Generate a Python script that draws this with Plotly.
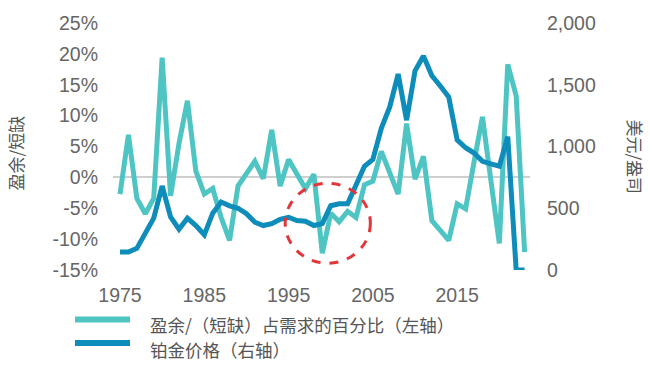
import plotly.graph_objects as go

years = list(range(1975, 2024))
surplus_pct = [
    -2.7, 6.9, -3.4, -5.9, -3.4, 19.4, -3.0, 5.5, 12.4, 1.0,
    -2.7, -1.8, -6.5, -10.2, -1.4, 0.5, 2.6, -0.2, 7.7, -1.4,
    2.9, 0.5, -1.8, 0.5, -12.3, -5.8, -7.2, -5.5, -6.5, -1.2,
    -0.6, 4.2, 1.0, -2.7, 8.7, -0.3, 3.4, -7.0, -8.6, -10.2,
    -4.3, -5.1, 2.5, 9.8, -0.5, -10.7, 18.3, 13.2, -12.1,
]
platinum_price = [
    145, 145, 175, 290, 420, 680, 430, 330, 420, 360,
    285, 460, 550, 520, 500, 456, 387, 360, 375, 410,
    427, 400, 395, 360, 376, 520, 536, 536, 690, 840,
    896, 1147, 1320, 1587, 1213, 1613, 1733, 1573, 1490, 1400,
    1053, 990, 947, 880, 860, 840, 1080, 0, 0,
]

x_ticks = [1975, 1985, 1995, 2005, 2015]
left_ticks = [-15, -10, -5, 0, 5, 10, 15, 20, 25]
left_ticktext = ["-15%", "-10%", "-5%", "0%", "5%", "10%", "15%", "20%", "25%"]
right_ticks = [0, 500, 1000, 1500, 2000]
right_ticktext = ["0", "500", "1,000", "1,500", "2,000"]

name_surplus = "盈余/（短缺）占需求的百分比（左轴）"
name_price = "铂金价格（右轴）"
left_title = "盈余/短缺"
right_title = "美元/盎司"

TEAL = "#4EC4C3"
BLUE = "#0E8CBA"
TXT = "#666666"
CJK = "Noto Sans CJK SC"
LAT = "Liberation Sans, Arial, sans-serif"

fig = go.Figure()
fig.add_trace(go.Scatter(x=years, y=surplus_pct, mode="lines", name=name_surplus,
                         line=dict(color=TEAL, width=5), yaxis="y"))
fig.add_trace(go.Scatter(x=years, y=platinum_price, mode="lines", name=name_price,
                         line=dict(color=BLUE, width=5), yaxis="y2"))

W, H = 650, 365
L, R, T, B = 113, 120, 20, 95
pw, ph = W - L - R, H - T - B


def px(xp):
    return (xp - L) / pw


def py(yp):
    return (H - B - yp) / ph


fig.update_layout(
    width=W, height=H,
    margin=dict(l=L, r=R, t=T, b=B, pad=0),
    paper_bgcolor="white", plot_bgcolor="white",
    showlegend=False,
    xaxis=dict(range=[1974.17, 2023.64], tickvals=x_ticks, showgrid=False,
               zeroline=False, showline=False, ticks="",
               tickfont=dict(family=LAT, size=19.5, color=TXT),
               ticklabelstandoff=11),
    yaxis=dict(range=[-15, 25], tickvals=left_ticks, ticktext=left_ticktext,
               showgrid=False, zeroline=True, zerolinecolor="#CFCFCF",
               zerolinewidth=2, showline=False, ticks="",
               tickfont=dict(family=LAT, size=19.5, color=TXT),
               ticklabelstandoff=14),
    yaxis2=dict(range=[0, 2000], tickvals=right_ticks, ticktext=right_ticktext,
                overlaying="y", side="right", showgrid=False, zeroline=False,
                showline=False, ticks="",
                tickfont=dict(family=LAT, size=19.5, color=TXT),
                ticklabelstandoff=16),
)

# dashed highlight circle
fig.add_shape(type="circle", xref="x", yref="y", x0=1994.6, x1=2004.7, y0=-13.9, y1=-0.96,
              line=dict(color="#E2363B", width=3, dash="dash"))

# custom legend
fig.add_shape(type="line", xref="paper", yref="paper", x0=px(75), x1=px(130), y0=py(320), y1=py(320),
              line=dict(color=TEAL, width=6))
fig.add_shape(type="line", xref="paper", yref="paper", x0=px(75), x1=px(130), y0=py(344), y1=py(344),
              line=dict(color=BLUE, width=6))
fig.add_annotation(text=name_surplus, xref="paper", yref="paper", x=px(148), y=py(325),
                   xanchor="left", yanchor="middle", showarrow=False,
                   font=dict(family=CJK, size=17.5, color="#555555"))
fig.add_annotation(text=name_price, xref="paper", yref="paper", x=px(148), y=py(350),
                   xanchor="left", yanchor="middle", showarrow=False,
                   font=dict(family=CJK, size=17.5, color="#555555"))

# axis titles
fig.add_annotation(text=left_title, xref="paper", yref="paper", x=px(15), y=py(152),
                   xanchor="center", yanchor="middle", showarrow=False, textangle=-90,
                   font=dict(family=CJK, size=17, color="#555555"))
fig.add_annotation(text=right_title, xref="paper", yref="paper", x=px(636), y=py(155),
                   xanchor="center", yanchor="middle", showarrow=False, textangle=90,
                   font=dict(family=CJK, size=17, color="#555555"))

fig.write_html("out.html")
